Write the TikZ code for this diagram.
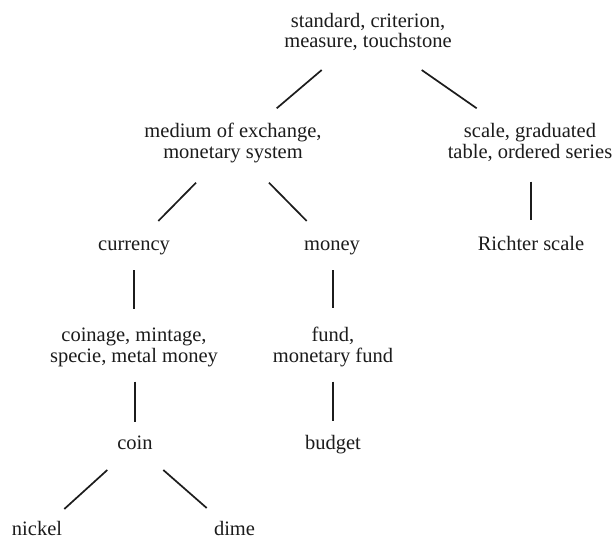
\documentclass[tikz,border=0pt]{standalone}
\usepackage{fontspec}
\setmainfont{Liberation Serif}
\usetikzlibrary{calc}
\definecolor{ink}{HTML}{1C1C1C}
\begin{document}
\begin{tikzpicture}[x=1pt,y=-1pt,
  lbl/.style={anchor=base, align=center, inner sep=0pt, text=ink,
    font=\fontsize{20.5}{20.5}\selectfont},
  link/.style={draw=ink, line width=1.7pt}]
\useasboundingbox[fill=white] (0,0) rectangle (616,541);
% nodes (base = baseline of the last line)
\node[lbl] (root)     at (368,47.5)  {standard, criterion,\\measure, touchstone};
\node[lbl] (medium)   at (233,158)   {medium of exchange,\\monetary system};
\node[lbl] (scale)    at (530,158)   {scale, graduated\\table, ordered series};
\node[lbl] (currency) at (134,250)   {currency};
\node[lbl] (money)    at (332,250)   {money};
\node[lbl] (richter)  at (531,250)   {Richter scale};
\node[lbl] (coinage)  at (134,362)   {coinage, mintage,\\specie, metal money};
\node[lbl] (fund)     at (333,362)   {fund,\\monetary fund};
\node[lbl] (coin)     at (135,449)   {coin};
\node[lbl] (budget)   at (333,449)   {budget};
\node[lbl] (nickel)   at (37,535)    {nickel};
\node[lbl] (dime)     at (234.5,535) {dime};
% connectors
\draw[link] ($(root.base)+(-46.3,22.5)$) -- ($(medium.base)+(43.7,-49.7)$);
\draw[link] ($(root.base)+(53.7,22.5)$)  -- ($(scale.base)+(-53.3,-49.7)$);
\draw[link] ($(medium.base)+(-37,24.7)$) -- ($(currency.base)+(24.3,-29)$);
\draw[link] ($(medium.base)+(36,24.7)$)  -- ($(money.base)+(-25.3,-29)$);
\draw[link] ($(scale.base)+(1,23.7)$)    -- ($(richter.base)+(0,-30)$);
\draw[link] ($(currency.base)+(0.3,20)$) -- ($(coinage.base)+(0.3,-53)$);
\draw[link] ($(money.base)+(0.7,20)$)    -- ($(fund.base)+(-0.3,-54)$);
\draw[link] ($(coinage.base)+(1,19.7)$)  -- ($(coin.base)+(0,-27.3)$);
\draw[link] ($(fund.base)+(0.3,19.7)$)   -- ($(budget.base)+(0.3,-28.3)$);
\draw[link] ($(coin.base)+(-27.7,21)$)   -- ($(nickel.base)+(27.3,-26)$);
\draw[link] ($(coin.base)+(28.3,21)$)    -- ($(dime.base)+(-27.8,-27)$);
\end{tikzpicture}
\end{document}
